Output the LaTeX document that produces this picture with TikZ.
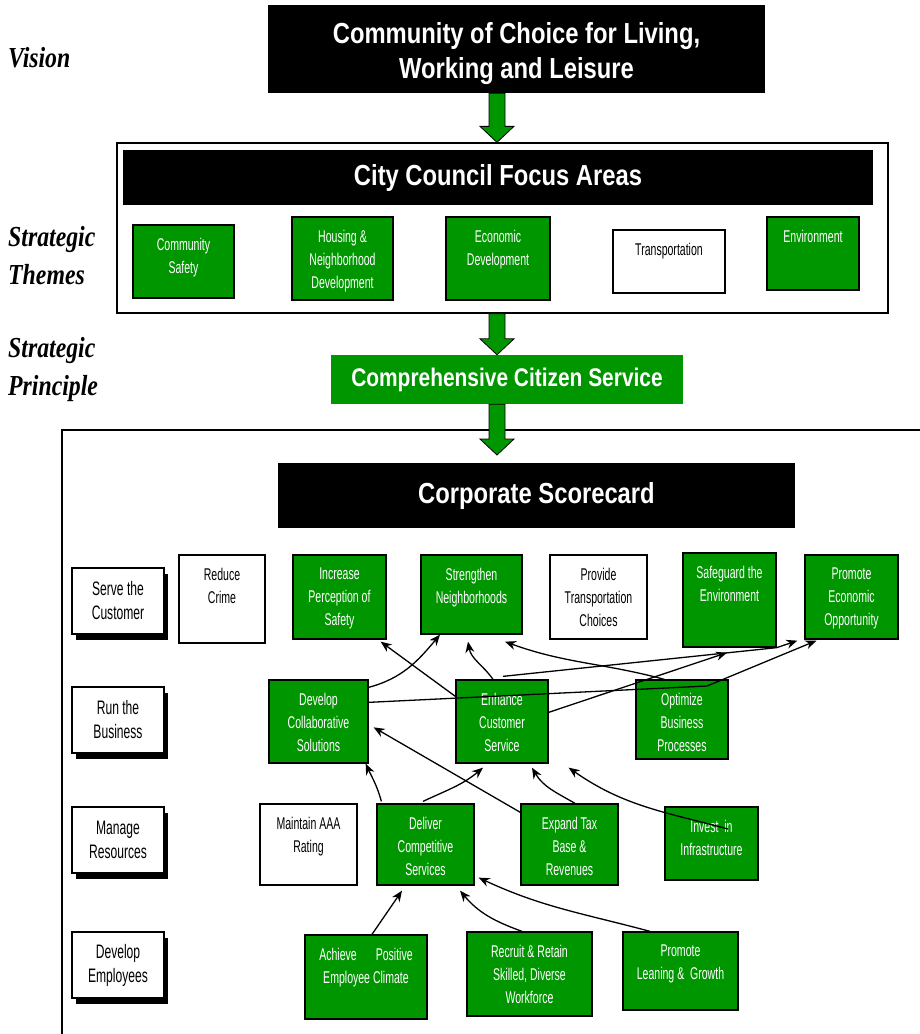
\documentclass[tikz,border=0pt]{standalone}
\usepackage{fontspec}
\setmainfont{Liberation Sans}
\newfontfamily\narrowsans[FakeStretch=0.62]{Liberation Sans}
\newfontfamily\titlesans[FakeStretch=0.82]{Liberation Sans}
\newfontfamily\sideserif[FakeStretch=0.82]{Liberation Serif}
\usepackage{xcolor}
\usepackage{tikz}
\usetikzlibrary{positioning, arrows.meta, shadows, calc}
\definecolor{CardGreen}{HTML}{009600}

% text of a card, set from the top of the box
\newcommand{\cardtext}[3]{\parbox[c][#2][t]{#1}{\centering\vspace*{13pt}#3}}
% thick green arrow between two levels
\newcommand{\bigarrow}[2]{%
  \draw[blockarrow] let \p1=(#1), \p2=(#2) in
    (\x1-8pt,\y1) -- (\x1-8pt,\y2+16pt) -- (\x1-17pt,\y2+16pt) -- (\x2,\y2)
    -- (\x1+17pt,\y2+16pt) -- (\x1+8pt,\y2+16pt) -- (\x1+8pt,\y1) -- cycle;}

\begin{document}
\begin{tikzpicture}[x=1pt, y=1pt,
    card/.style={draw=black, line width=1.3pt, fill=CardGreen, text=white, inner sep=0pt, font=\narrowsans\fontsize{17}{23}\selectfont},
    plaincard/.style={card, fill=white, text=black},
    titlebar/.style={fill=black, text=white, align=center, inner sep=0pt, font=\titlesans\bfseries\fontsize{29}{38}\selectfont},
    rowlabel/.style={draw=black, line width=1.2pt, fill=white, align=center, inner sep=0pt, minimum width=92pt, minimum height=66pt, drop shadow={shadow xshift=4pt, shadow yshift=-6pt, fill=black, opacity=1}, font=\narrowsans\fontsize{19.5}{24}\selectfont},
    sidelabel/.style={anchor=west, align=left, inner sep=0pt, font=\sideserif\bfseries\itshape\fontsize{29}{38}\selectfont},
    link/.style={-{Stealth[length=11pt, width=9pt]}, line width=1.3pt},
    blockarrow/.style={fill=CardGreen, draw=black, line width=0.8pt}
]
    \useasboundingbox (0,0) rectangle (920,-1034);

    % vision
    \node[titlebar, font=\titlesans\bfseries\fontsize{29}{35}\selectfont, minimum width=497pt, minimum height=88pt] (vision) at (516.5,-49) {\rule{0pt}{31pt}Community of Choice for Living,\\Working and Leisure};
    \node[sidelabel] (visionlbl) at (8,-58) {Vision};

    % strategic themes
    \node[draw=black, line width=1.3pt, minimum width=771pt, minimum height=170pt] (council) at (502.5,-228) {};
    \node[titlebar, minimum width=750pt, minimum height=55pt] (councilbar) at (498,-177.5) {City Council Focus Areas};
    \node[sidelabel] (themeslbl) at (8,-256) {Strategic\\Themes};

    \node[card] (safety) at (183.5,-261.5) {\cardtext{101pt}{73pt}{Community\\Safety}};
    \node[card] (housing) at (342.5,-258.5) {\cardtext{101pt}{83pt}{Housing \&\\Neighborhood\\Development}};
    \node[card] (econdev) at (498,-258.5) {\cardtext{104pt}{83pt}{Economic\\Development}};
    \node[plaincard] (transport) at (669,-261.5) {\cardtext{112pt}{63pt}{Transportation}};
    \node[card] (environ) at (813,-253.5) {\cardtext{92pt}{73pt}{Environment}};

    % strategic principle
    \node[sidelabel] (principlelbl) at (8,-370) {Strategic\\Principle};
    \node[titlebar, fill=CardGreen, font=\titlesans\bfseries\fontsize{25.5}{30}\selectfont, minimum width=352pt, minimum height=49pt] (ccs) at (507,-379.5) {Comprehensive Citizen Service};

    % corporate scorecard
    \draw[line width=1.3pt] (62,-1034) |- (920,-430);
    \node[titlebar, minimum width=517pt, minimum height=65pt] (corp) at (536.5,-495.5) {Corporate Scorecard};

    \node[rowlabel] (serve) at (118,-601) {Serve the\\Customer};
    \node[rowlabel] (run) at (118,-720) {Run the\\Business};
    \node[rowlabel] (manage) at (118,-840) {Manage\\Resources};
    \node[rowlabel] (develop) at (118,-965) {Develop\\Employees};

    % serve the customer
    \node[plaincard] (rc) at (222,-599) {\cardtext{86pt}{88pt}{Reduce\\Crime}};
    \node[card] (ips) at (339.5,-597) {\cardtext{93pt}{84pt}{Increase\\Perception of\\Safety}};
    \node[card] (sn) at (471.5,-594.5) {\cardtext{101pt}{79pt}{Strengthen\\Neighborhoods}};
    \node[plaincard] (ptc) at (598.5,-597) {\cardtext{97pt}{84pt}{Provide\\Transportation\\Choices}};
    \node[card] (se) at (729.5,-600) {\cardtext{93pt}{94pt}{Safeguard the\\Environment}};
    \node[card] (peo) at (851.5,-597) {\cardtext{93pt}{84pt}{Promote\\Economic\\Opportunity}};

    % run the business
    \node[card] (dcs) at (318.5,-721.5) {\cardtext{99pt}{83pt}{Develop\\Collaborative\\Solutions}};
    \node[card] (ecs) at (502,-721.5) {\cardtext{92pt}{83pt}{Enhance\\Customer\\Service}};
    \node[card] (obp) at (682,-719.5) {\cardtext{92pt}{79pt}{Optimize\\Business\\Processes}};

    % manage resources
    \node[plaincard] (maaa) at (308.5,-844.5) {\cardtext{97pt}{81pt}{Maintain AAA\\Rating}};
    \node[card] (dls) at (425.5,-844.5) {\cardtext{97pt}{81pt}{Deliver\\Competitive\\Services}};
    \node[card] (etb) at (569.5,-844.5) {\cardtext{97pt}{81pt}{Expand Tax\\Base \&\\Revenues}};
    \node[card] (ii) at (711.5,-843.5) {\cardtext{93pt}{73pt}{Invest\ \ in\\Infrastructure}};

    % develop employees
    \node[card] (apec) at (366,-977) {\cardtext{122pt}{84pt}{Achieve\hspace{19pt}Positive\\Employee Climate}};
    \node[card] (rrs) at (529.5,-974) {\cardtext{125pt}{84pt}{Recruit \& Retain\\Skilled, Diverse\\Workforce}};
    \node[card] (plg) at (680.5,-971) {\cardtext{115pt}{78pt}{Promote\\Leaning \&\ \ Growth}};

    % big arrows
    \coordinate (axis) at (497,0);
    \coordinate (scoretop) at (497,-455);
    \bigarrow{vision.south -| axis}{council.north -| axis}
    \bigarrow{council.south -| axis}{ccs.north -| axis}
    \bigarrow{ccs.south -| axis}{scoretop}

    % links between objectives
    \coordinate (k1) at (707,-686);
    \draw[link] ([shift={(0,-8)}]dcs.north east) to[out=15, in=-130] ([shift={(-31.5,0)}]sn.south);
    \draw[link] ([shift={(0,-17)}]ecs.north west) -- ([shift={(-6,-2)}]ips.south east);
    \draw[link] ([shift={(-9,0)}]ecs.north) to[out=125, in=-80] ([shift={(-3.5,-7)}]sn.south);
    \draw[link] ([shift={(29,0)}]obp.north west) to[out=165, in=-20] ([shift={(33.5,-7)}]sn.south);
    \draw[link] ([shift={(0,-23)}]dcs.north east) -- (k1) -- ([shift={(12,-1)}]peo.south west);
    \draw[link] ([shift={(1,3)}]ecs.north) -- (se.south east) -- ([shift={(-7,-1)}]peo.south west);
    \draw[link] ([shift={(0,-33)}]ecs.north east) -- ([shift={(-2.5,-5)}]se.south);

    \draw[link] ([shift={(5,2)}]dls.north west) to[out=105, in=-65] ([shift={(-3,0)}]dcs.south east);
    \draw[link] ([shift={(-2.5,2)}]dls.north) to[out=25, in=-140] ([shift={(-19,-4)}]ecs.south);
    \draw[link] ([shift={(0,-9)}]etb.north west) -- ([shift={(5,-48)}]dcs.north east);
    \draw[link] ([shift={(5.5,0)}]etb.north) to[out=150, in=-60] ([shift={(30,-4)}]ecs.south);
    \draw[link] ([shift={(16.5,14.5)}]ii.center) to[out=165, in=-35] ([shift={(20,-4)}]ecs.south east);

    \draw[link] ([shift={(6,0)}]apec.north) -- ([shift={(-23.5,-5)}]dls.south);
    \draw[link] ([shift={(-7.5,0)}]rrs.north) to[out=160, in=-50] ([shift={(34.5,-5)}]dls.south);
    \draw[link] ([shift={(-30.5,0)}]plg.north) to[out=165, in=-25] ([shift={(4,8)}]dls.south east);
\end{tikzpicture}
\end{document}
